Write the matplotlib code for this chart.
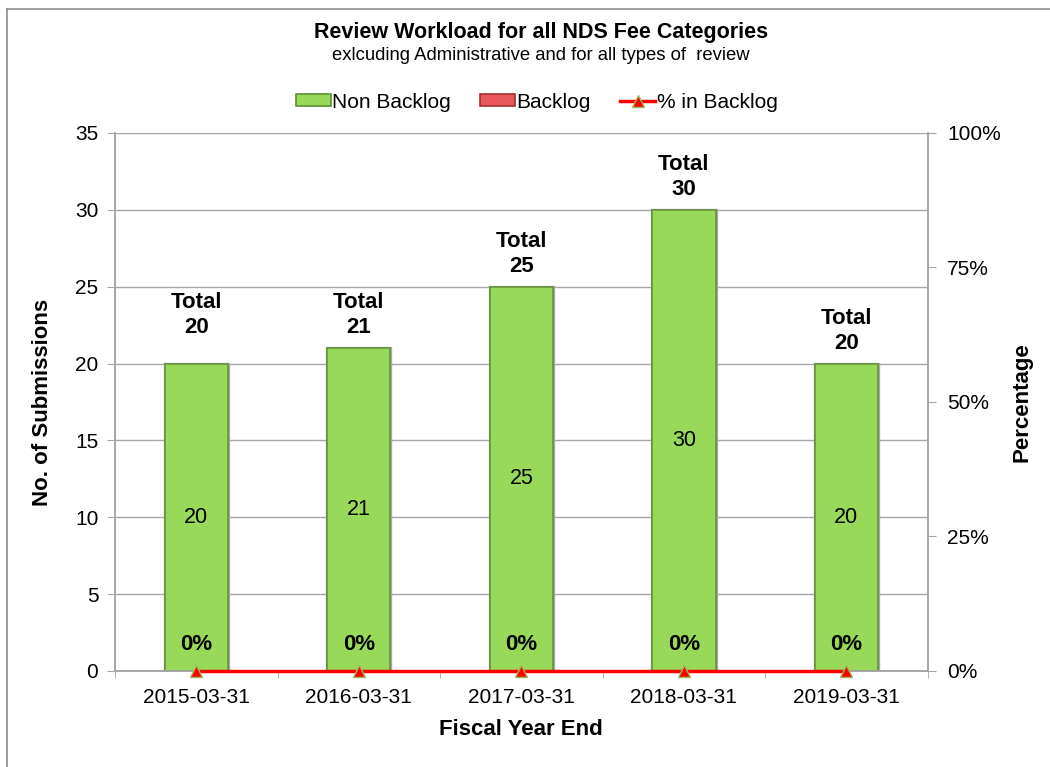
import numpy as np
import matplotlib
matplotlib.use('Agg')
import matplotlib.pyplot as plt
from matplotlib.lines import Line2D
from matplotlib.patches import Patch

plt.rcParams['font.family'] = ['Liberation Sans', 'DejaVu Sans']

# data
years = ['2015-03-31', '2016-03-31', '2017-03-31', '2018-03-31', '2019-03-31']
non_backlog = [20, 21, 25, 30, 20]
backlog = [0, 0, 0, 0, 0]
pct_backlog = [0, 0, 0, 0, 0]

green = '#99D95A'
green_edge = '#5F8F33'
red = '#E8585B'
grid_col = '#A6A6A6'

fig = plt.figure(figsize=(10.5, 7.67), dpi=100)
ax = fig.add_axes([0.1095, 0.1252, 0.774, 0.7014])
ax2 = ax.twinx()

x = np.arange(len(years))
totals = [a + b for a, b in zip(non_backlog, backlog)]
bw = 0.39
# first total label was nudged up a bit in the original
total_nudge = [1.0, 0, 0, 0, 0]

# bars, with a soft outer line and a darker inner rim for the bevel look
ax.bar(x, non_backlog, width=bw, color=green, edgecolor='#A8A8A8', linewidth=2.4, zorder=3)
ax.bar(x, non_backlog, width=bw, color=green, edgecolor=green_edge, linewidth=1.1, zorder=3)
ax.bar(x, backlog, width=bw, bottom=non_backlog, color=red, linewidth=0, zorder=3)

for i in range(len(x)):
    ax.text(x[i], non_backlog[i] / 2, str(non_backlog[i]), ha='center', va='center', fontsize=15.5, zorder=5)
    ax.text(x[i], totals[i] + 0.65 + total_nudge[i], 'Total\n{}'.format(totals[i]), ha='center', va='bottom',
            fontsize=16, fontweight='bold', linespacing=1.25, zorder=5)

ax.set_xlim(-0.5, len(years) - 0.5)
ax.set_ylim(0, 35)
ax.set_yticks(range(0, 36, 5))
ax.set_xticks(x)
ax.set_xticklabels(years)
ax.set_xticks(np.arange(-0.5, len(years), 1), minor=True)
ax.tick_params(axis='x', which='major', length=0, labelsize=15, pad=12)
ax.tick_params(axis='x', which='minor', length=5, color=grid_col)
ax.tick_params(axis='y', labelsize=15, length=6, color=grid_col, pad=6)
ax.yaxis.grid(True, color=grid_col, linewidth=1, zorder=0)
ax.set_axisbelow(True)

ax2.plot(x, pct_backlog, color='#FF0000', linewidth=2.5, marker='^', markersize=9,
         markerfacecolor='#FF0000', markeredgecolor='#9BBB59', zorder=6, clip_on=False)
for i in range(len(x)):
    ax2.text(x[i], pct_backlog[i] + 2.9, '{}%'.format(pct_backlog[i]), ha='center', va='bottom',
             fontsize=16, fontweight='bold', zorder=7)
ax2.set_ylim(0, 100)
ax2.set_yticks([0, 25, 50, 75, 100])
ax2.set_yticklabels(['0%', '25%', '50%', '75%', '100%'])
ax2.tick_params(axis='y', labelsize=15, length=6, color=grid_col, pad=8)

for a in (ax, ax2):
    for s in a.spines.values():
        s.set_color(grid_col)
        s.set_linewidth(1.2)
ax.spines['top'].set_visible(False)
ax2.spines['top'].set_visible(False)

ax.set_ylabel('No. of Submissions', fontsize=16, fontweight='bold', labelpad=16)
ax2.set_ylabel('Percentage', fontsize=16, fontweight='bold', labelpad=8)
ax.set_xlabel('Fiscal Year End', fontsize=16, fontweight='bold', labelpad=9)

fig.text(0.5155, 0.957, 'Review Workload for all NDS Fee Categories', ha='center', va='center',
         fontsize=15.5, fontweight='bold')
fig.text(0.5155, 0.927, 'exlcuding Administrative and for all types of  review', ha='center', va='center',
         fontsize=13.3)

handles = [Patch(facecolor=green, edgecolor=green_edge, linewidth=1.2),
           Patch(facecolor=red, edgecolor='#A03030', linewidth=1.2),
           Line2D([0], [0], color='#FF0000', linewidth=2.5, marker='^', markersize=8,
                  markerfacecolor='#FF0000', markeredgecolor='#9BBB59')]
fig.legend(handles, ['Non Backlog', 'Backlog', '% in Backlog'], loc='center', ncol=3,
           bbox_to_anchor=(0.511, 0.867), frameon=False, fontsize=15, handlelength=1.7,
           handleheight=0.45, handletextpad=0.05, columnspacing=1.4)

# outer chart border (left and top edges visible)
fig.add_artist(Line2D([7 / 1050, 7 / 1050], [0, 1 - 9 / 767], color='#8C8C8C', linewidth=1.2))
fig.add_artist(Line2D([7 / 1050, 1], [1 - 9 / 767, 1 - 9 / 767], color='#8C8C8C', linewidth=1.2))

fig.savefig('out.png', dpi=100)
